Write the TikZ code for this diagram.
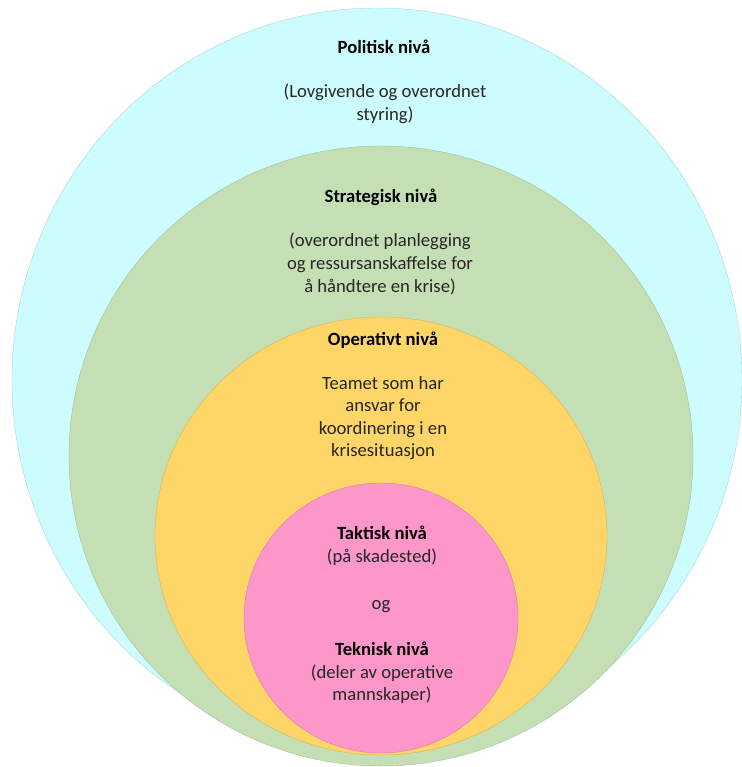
\documentclass[tikz,border=0pt]{standalone}
\usepackage{fontspec}
\setmainfont{Carlito}
\usetikzlibrary{positioning}
\definecolor{LvlCyan}{HTML}{CCFCFD}
\definecolor{LvlGreen}{HTML}{C5DFB4}
\definecolor{LvlYellow}{HTML}{FED667}
\definecolor{LvlPink}{HTML}{FD97CA}
\definecolor{LvlText}{HTML}{262626}

\begin{document}
\begin{tikzpicture}[
    x=0.75pt,y=-0.75pt,
    node distance=2pt,
    level/.style={fill=#1,draw=#1!85!black,line width=0.3pt},
    head/.style={font=\fontsize{14}{16.9}\selectfont\bfseries,text=black,inner sep=0pt},
    body/.style={font=\fontsize{14}{16.9}\selectfont,text=LvlText,align=center,inner sep=0pt}
  ]
  \useasboundingbox (0,0) rectangle (742,767);
  % nested levels, outermost first
  \filldraw[level=LvlCyan] (377,380) ellipse [x radius=365,y radius=372];
  \filldraw[level=LvlGreen] (381,456) ellipse [x radius=312,y radius=310];
  \filldraw[level=LvlYellow] (381,536) ellipse [x radius=226,y radius=219];
  \filldraw[level=LvlPink] (381,618) ellipse [x radius=137,y radius=135];

  \node[head] (politisk) at (384,47) {Politisk nivå};
  \node[body] (politiskTxt) at (385,104) {(Lovgivende og overordnet\\styring)};

  \node[head] (strategisk) at (381,197) {Strategisk nivå};
  \node[body] (strategiskTxt) at (380,264) {(overordnet planlegging\\og ressursanskaffelse for\\å håndtere en krise)};

  \node[head] (operativt) at (383,340) {Operativt nivå};
  \node[body] (operativtTxt) at (383,418) {Teamet som har\\ansvar for\\koordinering i en\\krisesituasjon};

  \node[body] (taktisk) at (382,546) {\textbf{\textcolor{black}{Taktisk nivå}}\\(på skadested)};
  \node[body] (og) at (381,607) {og};
  \node[body] (teknisk) at (382,673) {\textbf{\textcolor{black}{Teknisk nivå}}\\(deler av operative\\mannskaper)};
\end{tikzpicture}
\end{document}
